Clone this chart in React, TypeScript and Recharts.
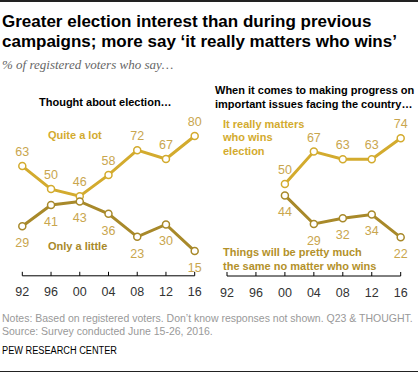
import { LineChart, Line, XAxis, YAxis, LabelList } from 'recharts';

// ─── Data ───
const years = ['92', '96', '00', '04', '08', '12', '16'];
const quiteALot = [63, 50, 46, 58, 72, 67, 80];
const onlyALittle = [29, 41, 43, 36, 23, 30, 15];
const reallyMatters = [null, null, 50, 67, 63, 63, 74];
const prettyMuchSame = [null, null, 44, 29, 32, 34, 22];

// ─── Palette ───
const GOLD = '#D3AB2E';
const DARK_GOLD = '#A8892A';
const LABEL_GOLD = '#C9A64E';
const FONT = "'Liberation Sans', Arial, sans-serif";

const leftData = years.map((y, i) => ({ year: y, high: quiteALot[i], low: onlyALittle[i] }));
const rightData = years.map((y, i) => ({ year: y, high: reallyMatters[i], low: prettyMuchSame[i] }));

const YearTick = (props: any) => {
  const { x, y, payload } = props;
  return (
    <g>
      <line x1={x} x2={x} y1={y - 4} y2={y} stroke="#000" strokeWidth={1} />
      <text x={x} y={y + 20.5} textAnchor="middle" fontSize={12.5} fill="#333" fontFamily={FONT}>
        {payload.value}
      </text>
    </g>
  );
};

const dot = (color: string) => ({ r: 3.5, fill: '#fff', stroke: color, strokeWidth: 1.5 });

// one panel; the domain floor puts the baseline where the reference draws it
const Panel = ({ data, left, right, top, bottom, floor }: any) => (
  <div style={{ position: 'absolute', left: 0, top: 0 }}>
    <LineChart width={420} height={373} data={data} margin={{ left, right, top, bottom: bottom - 30 }}>
      <XAxis
        dataKey="year"
        height={30}
        interval={0}
        tickSize={0}
        tickMargin={0}
        axisLine={{ stroke: '#000', strokeWidth: 1 }}
        tickLine={false}
        tick={<YearTick />}
      />
      <YAxis hide domain={[floor, 100]} allowDataOverflow />
      <Line dataKey="high" stroke={GOLD} strokeWidth={3} dot={dot(GOLD)} isAnimationActive={false}>
        <LabelList dataKey="high" position="top" offset={10} fill={LABEL_GOLD} fontSize={12.5} fontFamily={FONT} />
      </Line>
      <Line dataKey="low" stroke={DARK_GOLD} strokeWidth={3} dot={dot(DARK_GOLD)} isAnimationActive={false}>
        <LabelList dataKey="low" position="bottom" offset={12} fill={LABEL_GOLD} fontSize={12.5} fontFamily={FONT} />
      </Line>
    </LineChart>
  </div>
);

const abs = (top: number, left: number, extra: React.CSSProperties = {}): React.CSSProperties => ({
  position: 'absolute', top, left, whiteSpace: 'nowrap', fontFamily: FONT, ...extra,
});

const bold11 = { fontWeight: 'bold', fontSize: 11 } as const;

export default function App() {
  return (
    <div style={{ position: 'absolute', left: 0, top: 0, width: 420, height: 373, background: '#fff', overflow: 'hidden', fontFamily: FONT }}>
      <div style={{ position: 'absolute', left: 0, top: 0, width: 418, height: 2, background: '#222' }} />

      <div style={abs(12.4, 2, { fontWeight: 'bold', fontSize: 17, lineHeight: '20px', color: '#000' })}>
        Greater election interest than during previous<br />
        campaigns; more say ‘it really matters who wins’
      </div>
      <div style={abs(57, 2, { fontFamily: "'Liberation Serif', 'DejaVu Serif', serif", fontStyle: 'italic', fontSize: 13, color: '#666' })}>
        % of registered voters who say…
      </div>

      <Panel data={leftData} left={22.3} right={420 - 194.7} top={100.6} bottom={373 - 275.8} floor={1} />
      <Panel data={rightData} left={227} right={420 - 400.7} top={88.7} bottom={373 - 276} floor={1.7} />

      <div style={abs(96.2, 39, { ...bold11, lineHeight: '13px', color: '#000' })}>
        Thought about election…
      </div>
      <div style={abs(83, 215, { ...bold11, lineHeight: '14px', color: '#000' })}>
        When it comes to making progress on<br />important issues facing the country…
      </div>

      <div style={abs(128.5, 48, { ...bold11, lineHeight: '13px', color: GOLD })}>Quite a lot</div>
      <div style={abs(240.2, 48, { ...bold11, lineHeight: '13px', color: DARK_GOLD })}>Only a little</div>
      <div style={abs(117.8, 223, { ...bold11, lineHeight: '13.5px', color: GOLD })}>
        It really matters<br />who wins<br />election
      </div>
      <div style={abs(245.4, 223, { ...bold11, lineHeight: '14px', color: '#B3912A' })}>
        Things will be pretty much<br />the same no matter who wins
      </div>

      <div style={abs(311.6, 2, { fontSize: 10.5, lineHeight: '13.4px', color: '#999' })}>
        Notes: Based on registered voters. Don’t know responses not shown. Q23 &amp; THOUGHT.<br />
        Source: Survey conducted June 15-26, 2016.
      </div>
      <div style={abs(345, 2, { fontSize: 10, lineHeight: '12px', color: '#000', transform: 'scaleX(0.92)', transformOrigin: 'left top' })}>
        PEW RESEARCH CENTER
      </div>
      <div style={{ position: 'absolute', left: 0, top: 371, width: 418, height: 1, background: '#222' }} />
    </div>
  );
}
